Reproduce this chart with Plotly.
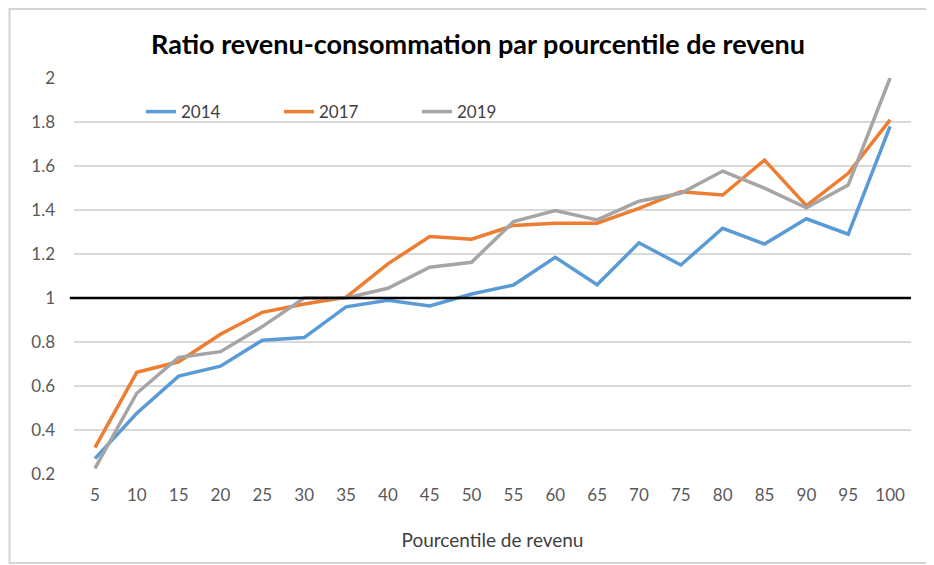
import plotly.graph_objects as go

percentiles = ["5","10","15","20","25","30","35","40","45","50","55","60","65","70","75","80","85","90","95","100"]
y2014 = [0.27,0.476,0.645,0.69,0.808,0.82,0.96,0.99,0.964,1.018,1.059,1.185,1.06,1.251,1.15,1.317,1.245,1.36,1.29,1.78]
y2017 = [0.32,0.662,0.71,0.835,0.935,0.973,1.003,1.155,1.279,1.267,1.33,1.34,1.34,1.407,1.483,1.468,1.627,1.42,1.567,1.81]
y2019 = [0.226,0.567,0.73,0.756,0.87,1.0,1.0,1.044,1.14,1.162,1.347,1.397,1.355,1.44,1.476,1.577,1.499,1.41,1.514,2.0]
ytick_vals = [0.2,0.4,0.6,0.8,1,1.2,1.4,1.6,1.8,2]
ytick_text = ["0.2","0.4","0.6","0.8","1","1.2","1.4","1.6","1.8","2"]

FONT = "Lato"
fig = go.Figure()
for name, ys, col in [("2014", y2014, "#5B9BD5"), ("2017", y2017, "#ED7D31"), ("2019", y2019, "#A5A5A5")]:
    fig.add_trace(go.Scatter(x=percentiles, y=ys, mode="lines", name=name,
                             line=dict(color=col, width=3.5), cliponaxis=False))

fig.add_shape(type="line", xref="paper", yref="y", x0=-0.005, x1=1.0, y0=1, y1=1,
              line=dict(color="black", width=2.5), layer="above")
# light chart-area frame (open on the right, as in the reference)
xl, xr = (1.5-66)/837, (926-66)/837
yt, yb = (466-1)/396, -(555-466)/396
fig.add_shape(type="path", xref="paper", yref="paper",
              path=f"M {xr} {yt} L {xl} {yt} L {xl} {yb} L {xr} {yb}",
              line=dict(color="#d4d4d4", width=2), layer="below")

# page body adds an 8px offset; figure is sized so the plot lands where the reference has it
fig.update_layout(
    width=926, height=557,
    margin=dict(l=66, r=23, t=70, b=91),
    paper_bgcolor="white", plot_bgcolor="white",
    font=dict(family=FONT, size=17, color="#595959"),
    title=dict(text="<b>Ratio revenu-consommation par pourcentile de revenu</b>",
               x=(478-8)/926, xanchor="center", y=1-37/557, yanchor="middle",
               font=dict(family=FONT, size=27, color="black")),
    legend=dict(orientation="h", x=0.08, xanchor="left", y=0.914, yanchor="middle",
                entrywidth=93, entrywidthmode="pixels",
                bgcolor="rgba(0,0,0,0)", font=dict(size=17, color="#404040")),
    showlegend=True,
)
fig.update_xaxes(type="category", range=[-0.5, 19.5], showgrid=False, showline=False, ticks="",
                 ticklabelstandoff=9,
                 title=dict(text="Pourcentile de revenu", standoff=29,
                            font=dict(size=19, color="#404040")))
fig.update_yaxes(range=[0.2, 2], tickvals=ytick_vals, ticktext=ytick_text,
                 showgrid=True, gridcolor="#d9d9d9", gridwidth=1.5,
                 zeroline=False, showline=False, ticks="", ticklabelstandoff=18)

fig.write_html("out.html")
